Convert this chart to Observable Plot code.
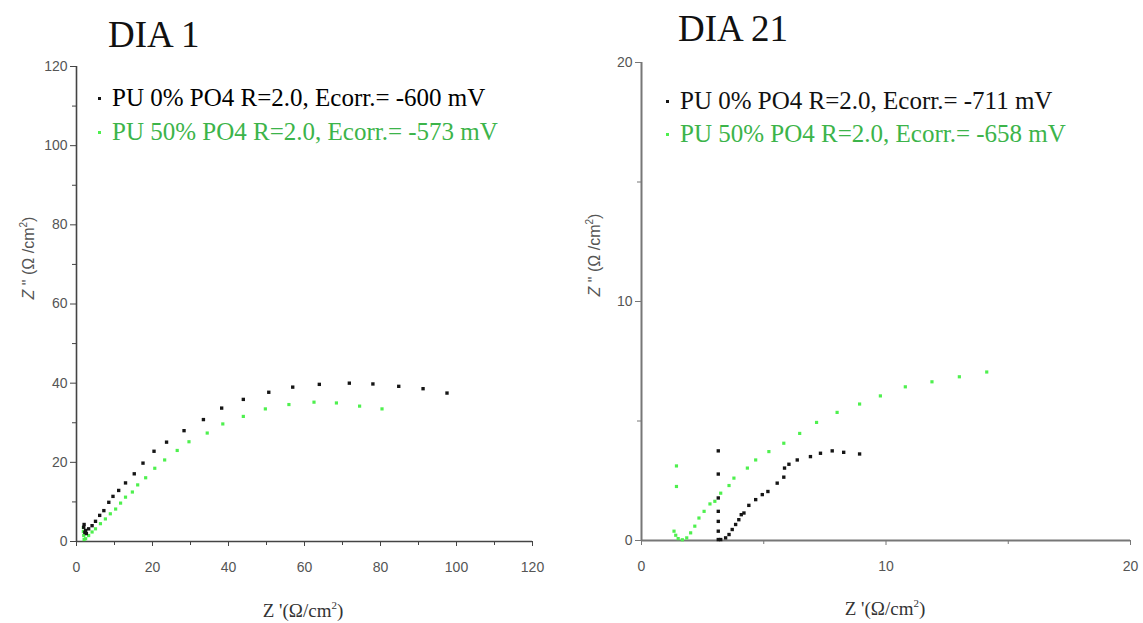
<!DOCTYPE html>
<html><head><meta charset="utf-8">
<script src="https://cdn.jsdelivr.net/npm/d3@7"></script>
<script src="https://cdn.jsdelivr.net/npm/@observablehq/plot@0.6"></script>
<style>
body{margin:0;background:#fff}
#root{position:relative;width:1143px;height:623px;overflow:hidden;background:#fff}
.p{position:absolute;top:0}
.t{position:absolute;white-space:nowrap;line-height:1}
</style></head><body><div id="root"></div>
<script>
// ---- texts ----
const titles = ["DIA 1", "DIA 21"];
const legendL = ["PU 0% PO4 R=2.0, Ecorr.= -600 mV", "PU 50% PO4 R=2.0, Ecorr.= -573 mV"];
const legendR = ["PU 0% PO4 R=2.0, Ecorr.=  -711 mV", "PU 50% PO4 R=2.0, Ecorr.=  -658 mV"];

// ---- ticks ----
const xTicksL = [0, 20, 40, 60, 80, 100, 120];
const xMinorL = [10, 30, 50, 70, 90, 110];
const yTicksL = [0, 20, 40, 60, 80, 100, 120];
const yMinorL = [10, 30, 50, 70, 90, 110];
const xTicksR = [0, 10, 20];
const xMinorR = [5, 15];
const yTicksR = [0, 10, 20];
const yMinorR = [5, 15];

// ---- DIA 1 data ----
const l0x = [97.5, 91.2, 84.8, 78.0, 71.8, 63.9, 56.9, 50.6, 43.9, 38.2, 33.4, 28.3, 23.7, 20.4, 17.5, 15.2, 12.9, 11.1, 9.6, 8.5, 7.2, 6.1, 5.0, 4.1, 3.2, 2.4, 1.9, 2.0, 2.2, 2.6];
const l0y = [37.5, 38.6, 39.2, 39.8, 40.0, 39.7, 39.0, 37.7, 35.9, 33.7, 30.8, 28.0, 25.1, 22.8, 19.8, 17.1, 14.8, 12.9, 11.4, 9.9, 7.8, 6.6, 5.1, 4.0, 3.2, 2.8, 3.6, 4.3, 2.3, 2.0];
const l50x = [80.4, 74.5, 68.4, 62.5, 55.9, 49.7, 43.9, 38.5, 34.4, 29.6, 26.5, 23.2, 20.6, 18.2, 16.1, 14.7, 12.9, 11.6, 10.3, 8.9, 7.6, 6.3, 5.0, 4.1, 3.2, 2.4, 1.8, 1.8, 1.9, 2.0];
const l50y = [33.5, 34.2, 35.0, 35.2, 34.6, 33.5, 31.6, 29.7, 27.4, 25.2, 23.0, 20.6, 18.5, 16.1, 14.3, 12.5, 11.2, 9.7, 8.2, 7.0, 5.7, 4.5, 3.2, 2.4, 1.5, 0.7, 3.5, 2.5, 1.5, 0.5];

// ---- DIA 21 data ----
const r0x = [3.14, 3.14, 3.14, 3.14, 3.14, 3.14, 3.14, 3.24, 3.44, 3.58, 3.71, 3.85, 3.98, 4.08, 4.19, 4.39, 4.67, 4.94, 5.17, 5.55, 5.82, 5.85, 6.03, 6.37, 6.91, 7.32, 7.80, 8.27, 8.92];
const r0y = [3.75, 2.78, 1.78, 1.22, 0.80, 0.39, 0.04, 0.04, 0.11, 0.25, 0.46, 0.67, 0.87, 1.08, 1.15, 1.47, 1.71, 1.92, 2.05, 2.40, 2.65, 3.03, 3.19, 3.37, 3.51, 3.65, 3.75, 3.69, 3.62];
const r50x = [1.43, 1.43, 1.33, 1.40, 1.50, 1.67, 1.85, 2.01, 2.18, 2.35, 2.56, 2.80, 3.00, 3.24, 3.58, 3.78, 4.33, 4.67, 5.21, 5.82, 6.47, 7.16, 8.00, 8.92, 9.77, 10.79, 11.88, 13.0, 14.12];
const r50y = [3.12, 2.26, 0.39, 0.22, 0.08, 0.03, 0.11, 0.32, 0.60, 0.94, 1.22, 1.53, 1.64, 1.98, 2.30, 2.61, 3.03, 3.37, 3.72, 4.07, 4.48, 4.94, 5.36, 5.71, 6.05, 6.43, 6.64, 6.85, 7.05];

const BLACK = "#151515", GREEN_PT = "#4ef04e", GREEN_TXT = "#3cb44a";
const tickFont = '"Liberation Sans Narrow","Liberation Sans",Arial,sans-serif';
const serif = '"Liberation Serif","Times New Roman",serif';
const toPts = (xs, ys) => xs.map((x, i) => ({x, y: ys[i]}));

function panel(o) {
  return Plot.plot({
    width: o.width, height: 623,
    marginLeft: o.ml, marginRight: o.mr, marginTop: o.mt, marginBottom: o.mb,
    x: {domain: o.xd, axis: null},
    y: {domain: o.yd, axis: null},
    style: {fontFamily: tickFont, fontSize: "14px", color: "#555", background: "transparent"},
    marks: [
      Plot.axisY(o.yt, {tickSize: 6, tickPadding: 3, label: null, stroke: o.axc}),
      Plot.axisY(o.ym, {tickSize: 4, text: null, label: null, stroke: o.axc}),
      Plot.axisX(o.xt, {tickSize: 5, tickPadding: 16, label: null, stroke: o.axc}),
      Plot.axisX(o.xm, {tickSize: 4, text: null, label: null, stroke: o.axc}),
      Plot.ruleX([o.xd[0]], {stroke: o.axc, strokeWidth: o.axw}),
      Plot.ruleY([o.yd[0]], {stroke: o.axc, strokeWidth: o.axw}),
      Plot.dot(o.g, {x: "x", y: "y", symbol: "square", r: 1.8, fill: GREEN_PT, stroke: null}),
      Plot.dot(o.b, {x: "x", y: "y", symbol: "square", r: 1.9, fill: BLACK, stroke: null})
    ]
  });
}

const root = document.getElementById("root");
const left = panel({width: 570, ml: 76, mr: 38, mt: 66, mb: 82, xd: [0, 120], yd: [0, 120],
  xt: xTicksL, xm: xMinorL, yt: yTicksL, ym: yMinorL, axc: "#444", axw: 1.6,
  b: toPts(l0x, l0y), g: toPts(l50x, l50y)});
left.classList.add("p"); left.style.left = "0px";
root.appendChild(left);

const right = panel({width: 573, ml: 71, mr: 13, mt: 62, mb: 83, xd: [0, 20], yd: [0, 20],
  xt: xTicksR, xm: xMinorR, yt: yTicksR, ym: yMinorR, axc: "#777", axw: 2,
  b: toPts(r0x, r0y), g: toPts(r50x, r50y)});
right.classList.add("p"); right.style.left = "570px";
root.appendChild(right);

function txt(s, css) {
  const d = document.createElement("div");
  d.className = "t";
  d.innerHTML = s;
  Object.assign(d.style, css);
  root.appendChild(d);
  return d;
}
// titles
txt(titles[0], {left: "108px", top: "16px", fontFamily: serif, fontSize: "37px", color: "#111"});
txt(titles[1], {left: "678px", top: "10px", fontFamily: serif, fontSize: "37px", color: "#111"});
// legends
function legend(x, y, text, color, dotColor) {
  txt("", {left: (x - 14) + "px", top: (y - 1) + "px", width: "3px", height: "3px", background: dotColor});
  txt(text, {left: x + "px", top: (y - 13) + "px", fontFamily: serif, fontSize: "25px", color: color});
}
legend(112, 98, legendL[0], "#000", BLACK);
legend(112, 132, legendL[1], GREEN_TXT, GREEN_PT);
legend(680, 101, legendR[0], "#111", BLACK);
legend(680, 134, legendR[1], GREEN_TXT, GREEN_PT);
// axis labels
const yLab = '<i>Z</i> " (\u03A9 /cm<sup style="font-size:10px">2</sup>)';
const xLab = 'Z \'(\u03A9/cm<sup style="font-size:11px">2</sup>)';
txt(yLab, {left: "28px", top: "258px", fontFamily: tickFont, fontSize: "16px", color: "#555", transform: "translate(-50%,-50%) rotate(-90deg)"});
txt(yLab, {left: "594px", top: "255px", fontFamily: tickFont, fontSize: "16px", color: "#555", transform: "translate(-50%,-50%) rotate(-90deg)"});
txt(xLab, {left: "303px", top: "610px", fontFamily: serif, fontSize: "19px", color: "#333", transform: "translate(-50%,-50%)"});
txt(xLab, {left: "885px", top: "608px", fontFamily: serif, fontSize: "19px", color: "#333", transform: "translate(-50%,-50%)"});
</script>
</body></html>
